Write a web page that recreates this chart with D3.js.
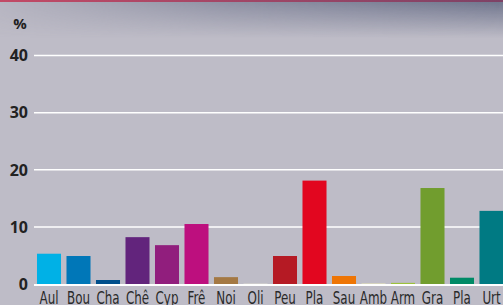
<!DOCTYPE html>
<html>
<head>
<meta charset="utf-8">
<script src="https://cdn.jsdelivr.net/npm/d3@7.9.0/dist/d3.min.js"></script>
<style>
  body { margin: 0; overflow: hidden; }
  svg { display: block; }
</style>
</head>
<body>
<div id="chart"></div>
<script>
const categories = ["Aul", "Bou", "Cha", "Chê", "Cyp", "Frê", "Noi", "Oli", "Peu", "Pla", "Sau", "Amb", "Arm", "Gra", "Pla ", "Urt"];
const values = [5.3, 4.9, 0.7, 8.2, 6.8, 10.5, 1.2, 0.1, 4.9, 18.1, 1.4, 0.1, 0.2, 16.8, 1.1, 12.8];
const colors = ["#00b1e6", "#0077b8", "#004f8c", "#62247c", "#911e7d", "#bd0f7e", "#a47843", "#d8d6d0",
                "#b51a24", "#e2061f", "#ee7505", "#e6e4b8", "#9cc13c", "#719d2e", "#008a66", "#007a83"];
const yTicks = [0, 10, 20, 30, 40];

const width = 503, height = 305;

const svg = d3.select('#chart')
  .append('svg')
  .attr('width', width)
  .attr('height', height);

const defs = svg.append('defs');
const shade = defs.append('linearGradient')
  .attr('id', 'shade')
  .attr('x1', 0).attr('y1', 0).attr('x2', 0).attr('y2', 1);
shade.append('stop').attr('offset', '0%').attr('stop-color', '#5e6580').attr('stop-opacity', 0.85);
shade.append('stop').attr('offset', '100%').attr('stop-color', '#5e6580').attr('stop-opacity', 0);

const fadeX = defs.append('linearGradient')
  .attr('id', 'fadeX')
  .attr('x1', 0).attr('y1', 0).attr('x2', 1).attr('y2', 0);
fadeX.append('stop').attr('offset', '0%').attr('stop-color', 'white').attr('stop-opacity', 0.1);
fadeX.append('stop').attr('offset', '45%').attr('stop-color', 'white').attr('stop-opacity', 0.6);
fadeX.append('stop').attr('offset', '100%').attr('stop-color', 'white').attr('stop-opacity', 1);
defs.append('mask').attr('id', 'shadeMask')
  .append('rect').attr('width', width).attr('height', 40).attr('fill', 'url(#fadeX)');

const border = defs.append('linearGradient')
  .attr('id', 'border')
  .attr('x1', 0).attr('y1', 0).attr('x2', 1).attr('y2', 0);
border.append('stop').attr('offset', '0%').attr('stop-color', '#c24a66');
border.append('stop').attr('offset', '100%').attr('stop-color', '#7e4266');

// background
svg.append('rect').attr('width', width).attr('height', height).attr('fill', '#bebcc7');
svg.append('rect').attr('width', width).attr('height', 38)
  .attr('fill', 'url(#shade)').attr('mask', 'url(#shadeMask)');
svg.append('rect').attr('width', width).attr('height', 2).attr('fill', 'url(#border)');

const x = d3.scaleBand()
  .domain(categories)
  .range([34.25, 506.25])
  .paddingInner(0.186)
  .paddingOuter(0.093);

const y = d3.scaleLinear().domain([0, 40]).range([284, 55.5]);

// gridlines
svg.append('g')
  .selectAll('line')
  .data(yTicks.filter(d => d > 0))
  .join('line')
  .attr('x1', 34).attr('x2', width)
  .attr('y1', d => y(d)).attr('y2', d => y(d))
  .attr('stroke', '#ffffff')
  .attr('stroke-width', 1.5);

// y labels
svg.append('g')
  .selectAll('text')
  .data(yTicks)
  .join('text')
  .attr('x', 28)
  .attr('y', d => y(d))
  .attr('dy', '0.36em')
  .attr('text-anchor', 'end')
  .attr('font-family', '"Open Sans", sans-serif')
  .attr('font-weight', 'bold')
  .attr('font-size', 16)
  .attr('fill', '#222')
  .text(d => d);

svg.append('text')
  .attr('x', 20).attr('y', 29)
  .attr('text-anchor', 'middle')
  .attr('font-family', '"Open Sans", sans-serif')
  .attr('font-weight', 'bold')
  .attr('font-size', 15)
  .attr('fill', '#222')
  .text('%');

// bars
svg.append('g')
  .selectAll('rect')
  .data(categories)
  .join('rect')
  .attr('x', d => x(d))
  .attr('width', x.bandwidth())
  .attr('y', (d, i) => y(values[i]))
  .attr('height', (d, i) => y(0) - y(values[i]))
  .attr('fill', (d, i) => colors[i]);

// zero line
svg.append('line')
  .attr('x1', 34).attr('x2', width)
  .attr('y1', y(0) + 1).attr('y2', y(0) + 1)
  .attr('stroke', '#ffffff')
  .attr('stroke-width', 2);

// x labels (condensed look: squeeze horizontally)
const labels = svg.append('g')
  .attr('font-family', '"Liberation Sans Narrow", "DejaVu Sans Condensed", sans-serif')
  .attr('font-size', 17)
  .attr('fill', '#2a2a2a');

const probe = labels.append('text').text('Aul');
const squeeze = Math.min(1, 19 / probe.node().getComputedTextLength());
probe.remove();

labels.selectAll('text')
  .data(categories)
  .join('text')
  .attr('transform', d => `translate(${x(d) + x.bandwidth() / 2},304) scale(${squeeze},1)`)
  .attr('text-anchor', 'middle')
  .text(d => d.trim());
</script>
</body>
</html>
